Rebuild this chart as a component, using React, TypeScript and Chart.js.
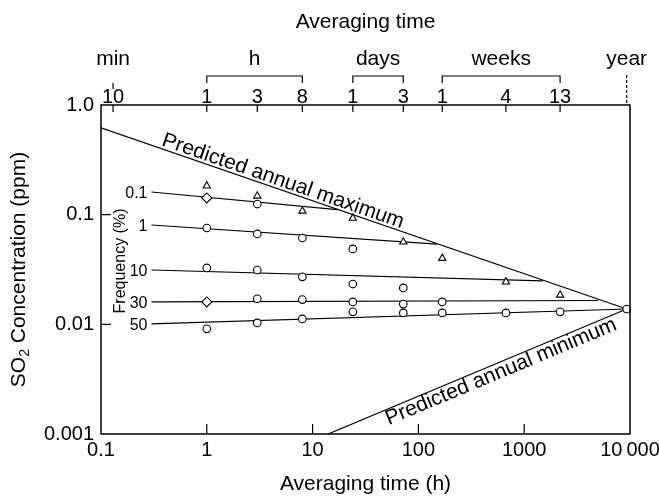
import React, { useEffect, useRef } from "react";
import { Chart, registerables } from "chart.js";

Chart.register(...registerables);

const FONT = "'Liberation Sans', Arial, Helvetica, sans-serif";

// Bottom axis (averaging time in hours) and left axis (SO2 ppm)
const xTickValues = [0.1, 1, 10, 100, 1000, 10000];
const xTickLabels = ["0.1", "1", "10", "100", "1000", "10\u2009000"];
const yTickValues = [0.001, 0.01, 0.1, 1];
const yTickLabels = ["0.001", "0.01", "0.1", "1.0"];

// Top axis: averaging time in natural units
const topTickValues = [0.13, 1, 3, 8, 24, 72, 168, 672, 2184, 9300];
const topTickLabels = ["10", "1", "3", "8", "1", "3", "1", "4", "13", ""];
const topGroups = ["min", "h", "days", "weeks", "year"];
const topGroupFrom = [0.13, 1, 24, 168, 9300];
const topGroupTo = [0.13, 8, 72, 2184, 9300];

// Predicted annual envelope
const maxLineX = [0.1, 9300];
const maxLineY = [0.62, 0.0138];
const minLineX = [14, 9300];
const minLineY = [0.001, 0.0138];
const maxLineLabel = "Predicted annual maximum";
const minLineLabel = "Predicted annual minimum";
const maxLabelAt = 0.36;
const minLabelAt = 46;

// Frequency lines (%)
const freqLabels = ["0.1", "1", "10", "30", "50"];
const freqStartX = [0.3, 0.3, 0.3, 0.3, 0.3];
const freqStartY = [0.161, 0.0805, 0.0313, 0.016, 0.0101];
const freqEndX = [17, 150, 1500, 5000, 9300];
const freqEndY = [0.111, 0.0538, 0.0249, 0.0165, 0.0138];

// Observations
const triX = [1, 3, 8, 24, 72, 168, 672, 2184];
const triY = [0.183, 0.148, 0.108, 0.093, 0.0564, 0.04, 0.0244, 0.0185];
const diaX = [1, 1];
const diaY = [0.142, 0.016];
const circX = [3, 1, 3, 8, 24, 1, 3, 8, 24, 72, 3, 8, 24, 24, 72, 72, 168, 168, 1, 3, 8, 672, 2184, 9300];
const circY = [0.125, 0.0756, 0.0667, 0.0613, 0.0487, 0.0327, 0.0313, 0.0271, 0.0233, 0.0215, 0.0171, 0.0168, 0.016, 0.013, 0.0153, 0.0127, 0.016, 0.0127, 0.0091, 0.0103, 0.0112, 0.0127, 0.013, 0.0138];

const pts = (xs: number[], ys: number[]) => xs.map((x, i) => ({ x, y: ys[i] }));

const lineDs = (xs: number[], ys: number[]) => ({
  data: pts(xs, ys),
  showLine: true,
  borderColor: "#000",
  borderWidth: 1.2,
  pointRadius: 0,
  pointHoverRadius: 0,
  tension: 0,
  fill: false,
  order: 2,
});

const markerDs = (xs: number[], ys: number[], style: string, r: number) => ({
  data: pts(xs, ys),
  showLine: false,
  pointStyle: style,
  pointRadius: r,
  pointHoverRadius: r,
  pointBackgroundColor: "#fff",
  pointBorderColor: "#000",
  pointBorderWidth: 1.1,
  clip: false,
  order: 0,
});

const annot = {
  id: "annot",
  afterDraw(chart: any) {
    const ctx: CanvasRenderingContext2D = chart.ctx;
    const a = chart.chartArea;
    const xs = chart.scales.x;
    const ys = chart.scales.y;
    const X = (v: number) => xs.getPixelForValue(v);
    const Y = (v: number) => ys.getPixelForValue(v);
    ctx.save();
    ctx.strokeStyle = "#000";
    ctx.fillStyle = "#000";

    // frame
    ctx.lineWidth = 1.5;
    ctx.strokeRect(a.left, a.top, a.right - a.left, a.bottom - a.top);

    // inward ticks
    ctx.lineWidth = 1.2;
    ctx.beginPath();
    xTickValues.slice(1, -1).forEach((v) => {
      const px = X(v);
      ctx.moveTo(px, a.bottom);
      ctx.lineTo(px, a.bottom - 10);
    });
    yTickValues.slice(1, -1).forEach((v) => {
      const py = Y(v);
      ctx.moveTo(a.left, py);
      ctx.lineTo(a.left + 10, py);
    });
    topTickValues.slice(0, -1).forEach((v) => {
      const px = X(v);
      ctx.moveTo(px, a.top);
      ctx.lineTo(px, a.top + 7);
    });
    ctx.stroke();

    // brackets and group marks
    ctx.beginPath();
    topGroups.forEach((g, i) => {
      const b1 = X(topGroupFrom[i]);
      const b2 = X(topGroupTo[i]);
      if (topGroupFrom[i] !== topGroupTo[i]) {
        ctx.moveTo(b1, 83);
        ctx.lineTo(b1, 76);
        ctx.lineTo(b2, 76);
        ctx.lineTo(b2, 83);
      } else if (i === 0) {
        ctx.moveTo(b1, 83);
        ctx.lineTo(b1, 89);
      }
    });
    ctx.stroke();
    ctx.save();
    ctx.setLineDash([3, 2]);
    ctx.beginPath();
    const yrX = X(topGroupFrom[topGroupFrom.length - 1]);
    ctx.moveTo(yrX, 75);
    ctx.lineTo(yrX, a.top);
    ctx.stroke();
    ctx.restore();

    // group labels
    ctx.font = `21px ${FONT}`;
    ctx.textAlign = "center";
    ctx.textBaseline = "alphabetic";
    topGroups.forEach((g, i) => {
      const b1 = X(topGroupFrom[i]);
      const b2 = X(topGroupTo[i]);
      ctx.fillText(g, (b1 + b2) / 2, 65);
    });

    // titles
    const cx = (a.left + a.right) / 2;
    ctx.fillText("Averaging time", cx, 28);
    ctx.fillText("Averaging time (h)", cx, 490);

    // y title with subscript
    ctx.save();
    ctx.translate(25, (a.top + a.bottom) / 2);
    ctx.rotate(-Math.PI / 2);
    ctx.textAlign = "left";
    const big = `21px ${FONT}`;
    const small = `14px ${FONT}`;
    ctx.font = big;
    const w1 = ctx.measureText("SO").width;
    const w3 = ctx.measureText(" Concentration (ppm)").width;
    ctx.font = small;
    const w2 = ctx.measureText("2").width;
    let sx = -(w1 + w2 + w3) / 2;
    ctx.font = big;
    ctx.fillText("SO", sx, 0);
    sx += w1;
    ctx.font = small;
    ctx.fillText("2", sx, 4);
    sx += w2;
    ctx.font = big;
    ctx.fillText(" Concentration (ppm)", sx, 0);
    ctx.restore();

    // text along envelope lines
    const along = (lx: number[], ly: number[], at: number, text: string, off: number, base: CanvasTextBaseline) => {
      const x1 = X(lx[0]), y1 = Y(ly[0]), x2 = X(lx[1]), y2 = Y(ly[1]);
      const ang = Math.atan2(y2 - y1, x2 - x1);
      const px = X(at);
      const py = y1 + ((px - x1) / (x2 - x1)) * (y2 - y1);
      ctx.save();
      ctx.translate(px, py);
      ctx.rotate(ang);
      ctx.font = `21px ${FONT}`;
      ctx.textAlign = "left";
      ctx.textBaseline = base;
      ctx.fillText(text, 0, off);
      ctx.restore();
    };
    along(maxLineX, maxLineY, maxLabelAt, maxLineLabel, -3, "alphabetic");
    along(minLineX, minLineY, minLabelAt, minLineLabel, -1, "top");

    // frequency labels
    ctx.font = `16px ${FONT}`;
    ctx.textAlign = "right";
    ctx.textBaseline = "middle";
    freqLabels.forEach((l, i) => {
      ctx.fillText(l, X(freqStartX[i]) - 4, Y(freqStartY[i]) + 2);
    });
    ctx.save();
    ctx.translate(121, 261);
    ctx.rotate(-Math.PI / 2);
    ctx.textAlign = "center";
    ctx.fillText("Frequency (%)", 0, 0);
    ctx.restore();

    ctx.restore();
  },
};

export default function App() {
  const ref = useRef<HTMLCanvasElement>(null);
  useEffect(() => {
    const canvas = ref.current;
    if (!canvas) return;
    const datasets: any[] = [
      markerDs(circX, circY, "circle", 3.8),
      markerDs(triX, triY, "triangle", 4.2),
      markerDs(diaX, diaY, "rectRot", 5),
      lineDs(maxLineX, maxLineY),
      lineDs(minLineX, minLineY),
      ...freqLabels.map((_, i) => lineDs([freqStartX[i], freqEndX[i]], [freqStartY[i], freqEndY[i]])),
    ];
    const tickFont = { family: FONT, size: 20, lineHeight: 1 };
    const noGrid = { display: false, drawTicks: false, tickLength: 0 };
    const chart = new Chart(canvas, {
      type: "scatter",
      data: { datasets },
      options: {
        responsive: false,
        animation: false,
        devicePixelRatio: 1,
        layout: { padding: { left: 0, right: 29, top: 0, bottom: 0 } },
        plugins: { legend: { display: false }, tooltip: { enabled: false } },
        events: [],
        scales: {
          x: {
            type: "logarithmic",
            position: "bottom",
            min: 0.1,
            max: 10000,
            grid: noGrid,
            border: { display: false },
            afterBuildTicks: (s: any) => {
              s.ticks = xTickValues.map((v) => ({ value: v }));
            },
            afterFit: (s: any) => {
              s.height = 65;
              s.paddingLeft = 0;
              s.paddingRight = 0;
            },
            ticks: {
              autoSkip: false,
              maxRotation: 0,
              minRotation: 0,
              padding: 6,
              color: "#000",
              font: tickFont,
              callback: (_v: any, i: number) => xTickLabels[i] ?? "",
            },
          },
          x2: {
            type: "logarithmic",
            position: "top",
            min: 0.1,
            max: 10000,
            grid: noGrid,
            border: { display: false },
            afterBuildTicks: (s: any) => {
              s.ticks = topTickValues.map((v) => ({ value: v }));
            },
            afterFit: (s: any) => {
              s.height = 105;
              s.paddingLeft = 0;
              s.paddingRight = 0;
            },
            ticks: {
              autoSkip: false,
              maxRotation: 0,
              minRotation: 0,
              padding: -2,
              color: "#000",
              font: tickFont,
              callback: (_v: any, i: number) => topTickLabels[i] ?? "",
            },
          },
          y: {
            type: "logarithmic",
            position: "left",
            min: 0.001,
            max: 1,
            grid: noGrid,
            border: { display: false },
            afterBuildTicks: (s: any) => {
              s.ticks = yTickValues.map((v) => ({ value: v }));
            },
            afterFit: (s: any) => {
              s.width = 101;
              s.paddingTop = 0;
              s.paddingBottom = 0;
            },
            ticks: {
              autoSkip: false,
              padding: 7,
              color: "#000",
              font: tickFont,
              callback: (_v: any, i: number) => yTickLabels[i] ?? "",
            },
          },
        },
      } as any,
      plugins: [annot],
    });
    return () => chart.destroy();
  }, []);
  return (
    <div style={{ position: "fixed", left: 0, top: 0, width: 659, height: 499, background: "#fff" }}>
      <canvas ref={ref} width={659} height={499} style={{ display: "block", width: 659, height: 499 }} />
    </div>
  );
}
